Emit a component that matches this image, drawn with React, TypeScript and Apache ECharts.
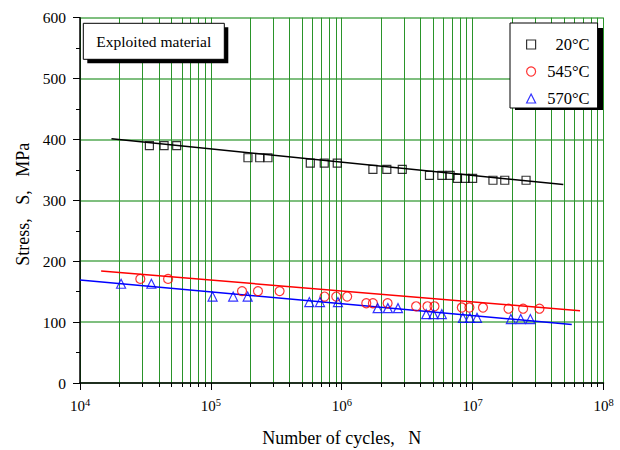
import React, { useEffect, useRef } from "react";
import * as echarts from "echarts";

const FONT = '"Liberation Serif", "Times New Roman", serif';

// 20°C
const cycles20 = [3.39e4, 4.39e4, 5.48e4, 1.92e5, 2.36e5, 2.73e5, 5.75e5, 7.35e5, 9.24e5, 1.73e6, 2.21e6, 2.9e6, 4.68e6, 5.82e6, 6.73e6, 7.66e6, 8.76e6, 1.0e7, 1.43e7, 1.76e7, 2.56e7];
const stress20 = [390, 390, 390, 370, 370, 370, 361, 361, 361, 351, 351, 351, 341, 341, 341, 336, 336, 336, 333, 333, 333];
// 545°C
const cycles545 = [2.89e4, 4.71e4, 1.73e5, 2.29e5, 3.35e5, 7.39e5, 9.08e5, 1.1e6, 1.54e6, 1.73e6, 2.24e6, 3.7e6, 4.52e6, 5.11e6, 8.27e6, 9.45e6, 1.2e7, 1.88e7, 2.43e7, 3.24e7];
const stress545 = [171, 171, 151, 151, 151, 142, 142, 142, 131, 131, 131, 126, 126, 126, 124, 124, 124, 122, 122, 122];
// 570°C
const cycles570 = [2.06e4, 3.51e4, 1.03e5, 1.48e5, 1.91e5, 5.65e5, 6.82e5, 9.35e5, 1.88e6, 2.25e6, 2.69e6, 4.42e6, 5.02e6, 5.82e6, 8.42e6, 9.52e6, 1.08e7, 1.96e7, 2.33e7, 2.76e7];
const stress570 = [163, 163, 142, 142, 142, 133, 133, 133, 123, 123, 123, 113, 113, 113, 107, 107, 107, 105, 105, 105];

// fitted lines (end points)
const fit20N = [1.74e4, 4.93e7];
const fit20S = [401, 326];
const fit545N = [1.45e4, 6.62e7];
const fit545S = [184, 118.5];
const fit570N = [1.0e4, 5.72e7];
const fit570S = [169, 96];

const seriesNames = ["20°C", "545°C", "570°C"];
const seriesColors = ["#000000", "#ff0000", "#0000ff"];
const seriesSymbols = ["rect", "circle", "triangle"];

const zip = (a: number[], b: number[]) => a.map((v, i) => [v, b[i]]);

export default function App() {
  const ref = useRef<HTMLDivElement>(null);
  useEffect(() => {
    if (!ref.current) return;
    const chart = echarts.init(ref.current, null, { renderer: "svg" });
    const green = "#2a942a";
    const pts = [zip(cycles20, stress20), zip(cycles545, stress545), zip(cycles570, stress570)];
    const fits = [zip(fit20N, fit20S), zip(fit545N, fit545S), zip(fit570N, fit570S)];
    const symbolSizes = [8, 9, 9];
    const series: any[] = [];
    for (let i = 0; i < 3; i++) {
      series.push({
        type: "line",
        data: fits[i],
        showSymbol: false,
        symbol: "none",
        lineStyle: { color: seriesColors[i], width: 1.5 },
        z: 3,
        silent: true,
      });
    }
    for (let i = 0; i < 3; i++) {
      series.push({
        name: seriesNames[i],
        type: "scatter",
        data: pts[i],
        symbol: seriesSymbols[i],
        symbolSize: symbolSizes[i],
        itemStyle: { color: "rgba(0,0,0,0)", borderColor: seriesColors[i], borderWidth: 1.2 },
        z: 4,
      });
    }
    chart.setOption({
      animation: false,
      backgroundColor: "#fff",
      textStyle: { fontFamily: FONT },
      grid: { left: 80, right: 16.5, top: 17.7, bottom: 67, containLabel: false, outerBoundsMode: "none" },
      xAxis: {
        type: "log",
        logBase: 10,
        min: 1e4,
        max: 1e8,
        name: "Number of cycles,   N",
        nameLocation: "middle",
        nameGap: 46,
        nameTextStyle: { fontSize: 18, fontFamily: FONT, color: "#000" },
        axisLine: { onZero: false, lineStyle: { color: "#000", width: 1.5 } },
        axisTick: { length: 7, lineStyle: { color: "#000", width: 1 } },
        minorTick: { show: true, splitNumber: 9, length: 4, lineStyle: { color: "#000", width: 1 } },
        splitLine: { show: true, lineStyle: { color: green, width: 1 } },
        minorSplitLine: { show: true, lineStyle: { color: green, width: 1 } },
        axisLabel: {
          margin: 14,
          color: "#000",
          formatter: (v: number) => `{b|10}{s|${Math.round(Math.log10(v))}}`,
          rich: {
            b: { fontSize: 15, fontFamily: FONT, color: "#000", lineHeight: 18 },
            s: { fontSize: 10.5, fontFamily: FONT, color: "#000", verticalAlign: "top", lineHeight: 11 },
          },
        },
      },
      yAxis: {
        type: "value",
        min: 0,
        max: 600,
        interval: 100,
        name: "Stress,   S,   MPa",
        nameLocation: "middle",
        nameGap: 46,
        nameTextStyle: { fontSize: 18, fontFamily: FONT, color: "#000", padding: [0, 8, 0, 0] },
        axisLine: { show: true, lineStyle: { color: "#000", width: 1.5 } },
        axisTick: { show: true, length: 7, lineStyle: { color: "#000", width: 1 } },
        minorTick: { show: true, splitNumber: 2, length: 4, lineStyle: { color: "#000", width: 1 } },
        splitLine: { show: true, lineStyle: { color: "rgba(0,128,0,0.5)", width: 2 } },
        axisLabel: { margin: 14, fontSize: 15.5, fontFamily: FONT, color: "#000" },
      },
      legend: {
        orient: "vertical",
        left: 510,
        top: 23,
        padding: [13, 8, 1, 16],
        itemGap: 10,
        itemWidth: 9,
        itemHeight: 9,
        backgroundColor: "#fff",
        borderColor: "#000",
        borderWidth: 1,
        z: 20,
        data: seriesNames.map((n, i) => ({
          name: n,
          icon: seriesSymbols[i],
          itemStyle: { color: "rgba(0,0,0,0)", borderColor: seriesColors[i], borderWidth: 1.2 },
        })),
        formatter: (name: string) => `{n|${name}}`,
        textStyle: {
          rich: {
            n: { width: 49, align: "right", fontSize: 16.5, fontFamily: FONT, color: "#000", lineHeight: 16 },
          },
        },
      },
      graphic: [
        { type: "rect", z: 10, shape: { x: 515, y: 28, width: 88, height: 82 }, style: { fill: "#000" } },
        { type: "rect", z: 10, shape: { x: 87.3, y: 27.3, width: 141, height: 36 }, style: { fill: "#000" } },
        { type: "rect", z: 11, shape: { x: 83.3, y: 23.3, width: 141, height: 36 }, style: { fill: "#fff", stroke: "#000", lineWidth: 1 } },
        {
          type: "text",
          z: 12,
          x: 153.8,
          y: 41.5,
          style: { text: "Exploited material", font: `15.5px ${FONT}`, fill: "#000", textAlign: "center", textVerticalAlign: "middle" },
        },
      ],
      series,
    });
    return () => chart.dispose();
  }, []);
  return <div ref={ref} style={{ position: "absolute", left: 0, top: 0, width: 620, height: 450 }} />;
}
